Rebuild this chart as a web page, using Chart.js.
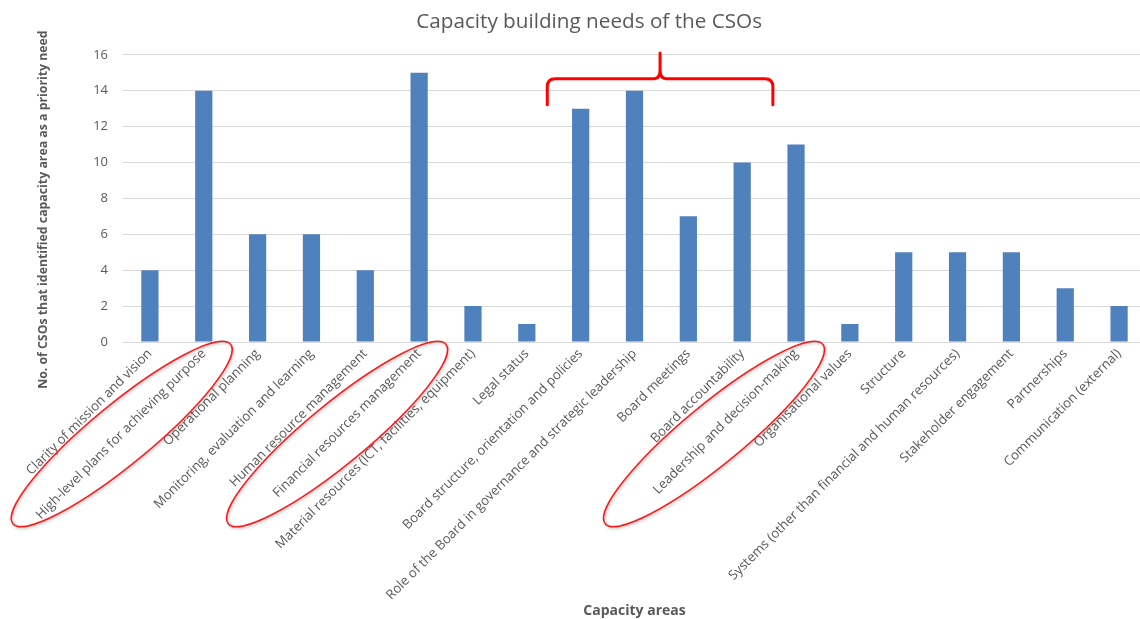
<!DOCTYPE html>
<html>
<head>
<meta charset="utf-8">
<script src="https://cdn.jsdelivr.net/npm/chart.js@4/dist/chart.umd.min.js"></script>
<style>
  html, body { margin: 0; padding: 0; width: 1140px; height: 619px; overflow: hidden; background: #ffffff; }
  #wrap { width: 1146px; height: 619px; position: relative; }
</style>
</head>
<body>
<div id="wrap"><canvas id="c"></canvas></div>
<script>
// ---- data ----
const categories = [
  'Clarity of mission and vision',
  'High-level plans for achieving purpose',
  'Operational planning',
  'Monitoring, evaluation and learning',
  'Human resource management',
  'Financial resources management',
  'Material resources (ICT, facilities, equipment)',
  'Legal status',
  'Board structure, orientation and policies',
  'Role of the Board in governance and strategic leadership',
  'Board meetings',
  'Board accountability',
  'Leadership and decision-making',
  'Organisational values',
  'Structure',
  'Systems (other than financial and human resources)',
  'Stakeholder engagement',
  'Partnerships',
  'Communication (external)'
];
const priorityCounts = [4, 14, 6, 6, 4, 15, 2, 1, 13, 14, 7, 10, 11, 1, 5, 5, 5, 3, 2];
const yTickValues = [0, 2, 4, 6, 8, 10, 12, 14, 16];
const chartTitle = 'Capacity building needs of the CSOs';
const yAxisTitle = 'No. of CSOs that identified capacity area as a priority need';
const xAxisTitle = 'Capacity areas';
const circledAreas = ['High-level plans for achieving purpose', 'Financial resources management', 'Leadership and decision-making'];
const bracedAreas = ['Board structure, orientation and policies', 'Role of the Board in governance and strategic leadership', 'Board meetings', 'Board accountability'];

// ---- styling ----
const FONT = "'Open Sans', 'Liberation Sans', sans-serif";
const TEXT = '#595959';
const GRID = '#d9d9d9';
const BAR = '#4F81BD';

const annotate = {
  id: 'annotate',
  afterDraw(chart) {
    const { ctx, scales: { x, y } } = chart;
    ctx.save();
    // ellipses around highlighted labels
    ctx.strokeStyle = '#ff1a1a';
    ctx.lineWidth = 1.5;
    ctx.shadowColor = 'rgba(0,0,0,0.25)';
    ctx.shadowBlur = 3;
    ctx.shadowOffsetX = 1;
    ctx.shadowOffsetY = 1.5;
    circledAreas.forEach(name => {
      const i = categories.indexOf(name);
      const cx = x.getPixelForValue(i) - 82;
      const cy = y.bottom + 92;
      ctx.beginPath();
      ctx.ellipse(cx, cy, 141, 30, -39.5 * Math.PI / 180, 0, Math.PI * 2);
      ctx.stroke();
    });
    // brace over board group
    ctx.shadowColor = 'rgba(0,0,0,0)';
    ctx.strokeStyle = '#ff0000';
    ctx.lineWidth = 3;
    ctx.lineCap = 'round';
    ctx.lineJoin = 'round';
    const idx = bracedAreas.map(n => categories.indexOf(n));
    const xl = x.getPixelForValue(Math.min(...idx) - 0.62);
    const xr = x.getPixelForValue(Math.max(...idx) + 0.57);
    const xc = (xl + xr) / 2;
    const yb = y.getPixelForValue(14.67);
    const ye = y.getPixelForValue(13.22);
    const yp = y.getPixelForValue(16.1);
    const r = 8;
    ctx.beginPath();
    ctx.moveTo(xl, ye);
    ctx.lineTo(xl, yb + r);
    ctx.quadraticCurveTo(xl, yb, xl + r, yb);
    ctx.lineTo(xc - 6, yb);
    ctx.quadraticCurveTo(xc, yb, xc, yb - 9);
    ctx.lineTo(xc, yp);
    ctx.moveTo(xc, yb - 9);
    ctx.quadraticCurveTo(xc, yb, xc + 6, yb);
    ctx.lineTo(xr - r, yb);
    ctx.quadraticCurveTo(xr, yb, xr, yb + r);
    ctx.lineTo(xr, ye);
    ctx.stroke();
    ctx.restore();
  }
};

new Chart(document.getElementById('c'), {
  type: 'bar',
  data: {
    labels: categories,
    datasets: [{
      data: priorityCounts,
      backgroundColor: BAR,
      borderWidth: 0,
      barPercentage: 0.32,
      categoryPercentage: 1.0
    }]
  },
  plugins: [annotate],
  options: {
    responsive: true,
    maintainAspectRatio: false,
    animation: false,
    layout: { padding: 0 },
    plugins: {
      legend: { display: false },
      tooltip: { enabled: false },
      title: {
        display: true,
        text: '      ' + chartTitle,
        color: TEXT,
        font: { family: FONT, size: 20.7, weight: 'normal' },
        padding: { top: 10, bottom: 20 }
      }
    },
    scales: {
      x: {
        grid: { display: false, drawTicks: false },
        border: { display: true, color: GRID, width: 1 },
        ticks: {
          autoSkip: false,
          minRotation: 45,
          maxRotation: 45,
          color: TEXT,
          font: { family: FONT, size: 13.2 },
          padding: 4
        },
        title: {
          display: true,
          text: xAxisTitle,
          color: TEXT,
          font: { family: FONT, size: 14, weight: 'bold' },
          padding: { top: 0, bottom: 0 }
        },
        afterFit(scale) { scale.height = 277; }
      },
      y: {
        min: 0,
        max: 16,
        grid: { color: GRID, lineWidth: 1, drawTicks: false },
        border: { display: false },
        ticks: {
          color: TEXT,
          font: { family: FONT, size: 13 },
          padding: 15
        },
        afterBuildTicks(scale) { scale.ticks = yTickValues.map(v => ({ value: v })); },
        title: {
          display: true,
          text: yAxisTitle + '       ',
          color: TEXT,
          font: { family: FONT, size: 12.3, weight: 'bold' },
          padding: { top: 36, bottom: 0 }
        },
        afterFit(scale) { scale.width = 123; }
      }
    }
  }
});
</script>
</body>
</html>
